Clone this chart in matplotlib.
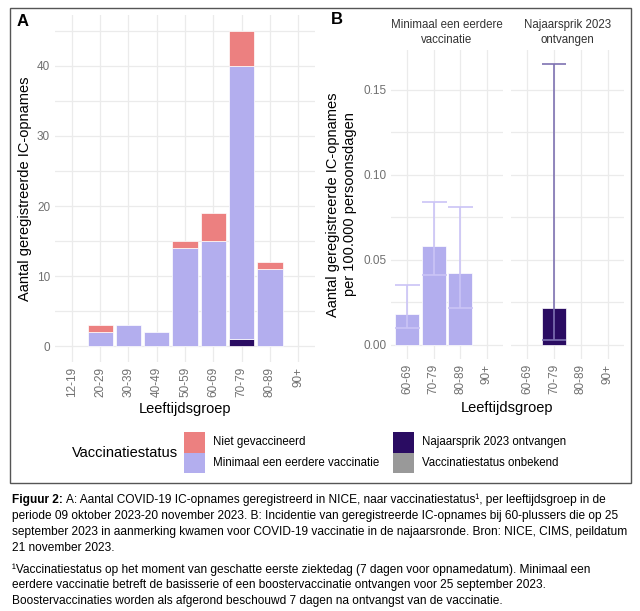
import numpy as np
import matplotlib
matplotlib.use('Agg')
import matplotlib.pyplot as plt
from matplotlib.patches import Rectangle

plt.rcParams['font.family'] = ['Liberation Sans', 'DejaVu Sans']

# ---- data panel A: aantal IC-opnames per leeftijdsgroep
ages_A = ['12-19', '20-29', '30-39', '40-49', '50-59', '60-69', '70-79', '80-89', '90+']
najaar_A = [0, 0, 0, 0, 0, 0, 1, 0, 0]
minimaal_A = [0, 2, 3, 2, 14, 15, 39, 11, 0]
niet_A = [0, 1, 0, 0, 1, 4, 5, 1, 0]

# ---- data panel B: incidentie per 100.000 persoonsdagen (60+)
ages_B = ['60-69', '70-79', '80-89', '90+']
minimaal_B = [0.018, 0.058, 0.042, np.nan]
minimaal_B_lo = [0.010, 0.041, 0.022, np.nan]
minimaal_B_hi = [0.035, 0.084, 0.081, np.nan]
najaar_B = [np.nan, 0.022, np.nan, np.nan]
najaar_B_lo = [np.nan, 0.003, np.nan, np.nan]
najaar_B_hi = [np.nan, 0.165, np.nan, np.nan]

legend_labels = ['Niet gevaccineerd', 'Minimaal een eerdere vaccinatie',
                 'Najaarsprik 2023 ontvangen', 'Vaccinatiestatus onbekend']

c_niet = '#EC8080'
c_min = '#B3AEEE'
c_naj = '#2A0C62'
c_onb = '#999999'
c_err_min = '#CBC4F6'
c_err_naj = '#7E72B2'
grid_c = '#EBEBEB'
tick_c = '#707070'
tick_fs = 8.5
lab_fs = 10.5

W, H = 640, 611
fig = plt.figure(figsize=(6.4, 6.11), dpi=100)


def px_axes(x0, y0, x1, y1):
    # pixel box (top-left origin) -> figure axes
    return fig.add_axes([x0 / W, 1 - y1 / H, (x1 - x0) / W, (y1 - y0) / H])


def style(ax):
    for s in ax.spines.values():
        s.set_visible(False)
    ax.tick_params(length=0, colors=tick_c, labelsize=tick_fs)
    ax.set_axisbelow(True)
    ax.grid(True, which='both', color=grid_c, lw=0.9)


def nz(v):
    a = np.array(v, dtype=float)
    return np.where(a == 0, np.nan, a)


# ---------------- panel A
axA = px_axes(55, 15, 315, 362)
style(axA)
xa = np.arange(len(ages_A))
bot = np.zeros(len(ages_A))
for vals, col in [(najaar_A, c_naj), (minimaal_A, c_min), (niet_A, c_niet)]:
    axA.bar(xa, nz(vals), 0.9, bottom=bot, color=col, edgecolor='white', lw=0.5)
    bot = bot + np.array(vals)
axA.set_xlim(-0.6, len(ages_A) - 0.4)
axA.set_ylim(-2.25, 47.25)
axA.set_yticks([0, 10, 20, 30, 40])
axA.set_yticks([5, 15, 25, 35, 45], minor=True)
axA.tick_params(which='minor', length=0)
axA.set_xticks(xa)
axA.set_xticklabels(ages_A, rotation=90)
axA.set_ylabel('Aantal geregistreerde IC-opnames', fontsize=lab_fs)
axA.yaxis.set_label_coords(-0.088, 0.5)
fig.text(185 / W, 1 - 409 / H, 'Leeftijdsgroep', ha='center', va='center', fontsize=lab_fs)
fig.text(17 / W, 1 - 22 / H, 'A', fontsize=12, fontweight='bold', va='center')

# ---------------- panel B (two facets)
axB1 = px_axes(391, 50, 503, 359)
axB2 = px_axes(511, 50, 624, 359)
xb = np.arange(len(ages_B))
facets = [
    (axB1, minimaal_B, minimaal_B_lo, minimaal_B_hi, c_min, c_err_min, 'Minimaal een eerdere\nvaccinatie', 9),
    (axB2, najaar_B, najaar_B_lo, najaar_B_hi, c_naj, c_err_naj, 'Najaarsprik 2023\nontvangen', 8.3),
]
for ax, v, lo, hi, col, ecol, title, cap in facets:
    style(ax)
    v = np.array(v)
    ax.bar(xb, v, 0.9, color=col, edgecolor='white', lw=0.5)
    yerr = np.vstack([v - np.array(lo), np.array(hi) - v])
    ax.errorbar(xb, v, yerr=yerr, fmt='none', ecolor=ecol, elinewidth=1.2,
                capsize=cap, capthick=1.2, zorder=3)
    ax.set_xlim(-0.6, len(ages_B) - 0.4)
    ax.set_ylim(-0.00825, 0.17325)
    ax.set_yticks([0, 0.05, 0.10, 0.15])
    ax.set_yticks([0.025, 0.075, 0.125], minor=True)
    ax.tick_params(which='minor', length=0)
    ax.set_xticks(xb)
    ax.set_xticklabels(ages_B, rotation=90)
    ax.annotate(title, xy=(0.5, 1), xycoords='axes fraction', xytext=(0, 3),
                textcoords='offset points', ha='center', va='bottom',
                fontsize=8.3, color='#333333', linespacing=1.3)
axB1.set_yticklabels(['0.00', '0.05', '0.10', '0.15'])
axB2.set_yticklabels([])
axB1.set_ylabel('Aantal geregistreerde IC-opnames\nper 100.000 persoonsdagen', fontsize=lab_fs,
                linespacing=1.3)
axB1.yaxis.set_label_coords(-0.30, 0.5)
fig.text(507 / W, 1 - 408 / H, 'Leeftijdsgroep', ha='center', va='center', fontsize=lab_fs)
fig.text(331 / W, 1 - 20 / H, 'B', fontsize=12, fontweight='bold', va='center')

# ---------------- legend (drawn by hand, ggplot style 2x2 keys)
leg_cols = [c_niet, c_min, c_naj, c_onb]
key_x = [184, 184, 393, 393]
key_y = [432, 452.5, 432, 452.5]
for lab, col, kx, ky in zip(legend_labels, leg_cols, key_x, key_y):
    fig.patches.append(Rectangle((kx / W, 1 - (ky + 20.5) / H), 21 / W, 20.5 / H,
                                 transform=fig.transFigure, facecolor=col, edgecolor='none'))
    fig.text((kx + 29) / W, 1 - (ky + 10.5) / H, lab, fontsize=8.3, va='center')
fig.text(72 / W, 1 - 453 / H, 'Vaccinatiestatus', fontsize=lab_fs, va='center')

# border around the figure area
fig.patches.append(Rectangle((10 / W, 1 - 483 / H), 621 / W, 475 / H, transform=fig.transFigure,
                             fill=False, edgecolor='#555555', lw=1.0))

# ---------------- caption
cap_fs = 8.6
r = fig.canvas.get_renderer()
t = fig.text(12 / W, 1 - 500 / H, 'Figuur 2:', fontsize=cap_fs, fontweight='bold', va='center')
bb = t.get_window_extent(renderer=r)
fig.text((bb.x1 + 3) / W, 1 - 500 / H,
         'A: Aantal COVID-19 IC-opnames geregistreerd in NICE, naar vaccinatiestatus\u00b9, per leeftijdsgroep in de',
         fontsize=cap_fs, va='center')
cap_lines = [
    (516, 'periode 09 oktober 2023-20 november 2023. B: Incidentie van geregistreerde IC-opnames bij 60-plussers die op 25'),
    (532, 'september 2023 in aanmerking kwamen voor COVID-19 vaccinatie in de najaarsronde. Bron: NICE, CIMS, peildatum'),
    (548, '21 november 2023.'),
    (570, '\u00b9Vaccinatiestatus op het moment van geschatte eerste ziektedag (7 dagen voor opnamedatum). Minimaal een'),
    (585, 'eerdere vaccinatie betreft de basisserie of een boostervaccinatie ontvangen voor 25 september 2023.'),
    (601, 'Boostervaccinaties worden als afgerond beschouwd 7 dagen na ontvangst van de vaccinatie.'),
]
for y, s in cap_lines:
    fig.text(12 / W, 1 - y / H, s, fontsize=cap_fs, va='center')

fig.savefig('out.png', dpi=100)
